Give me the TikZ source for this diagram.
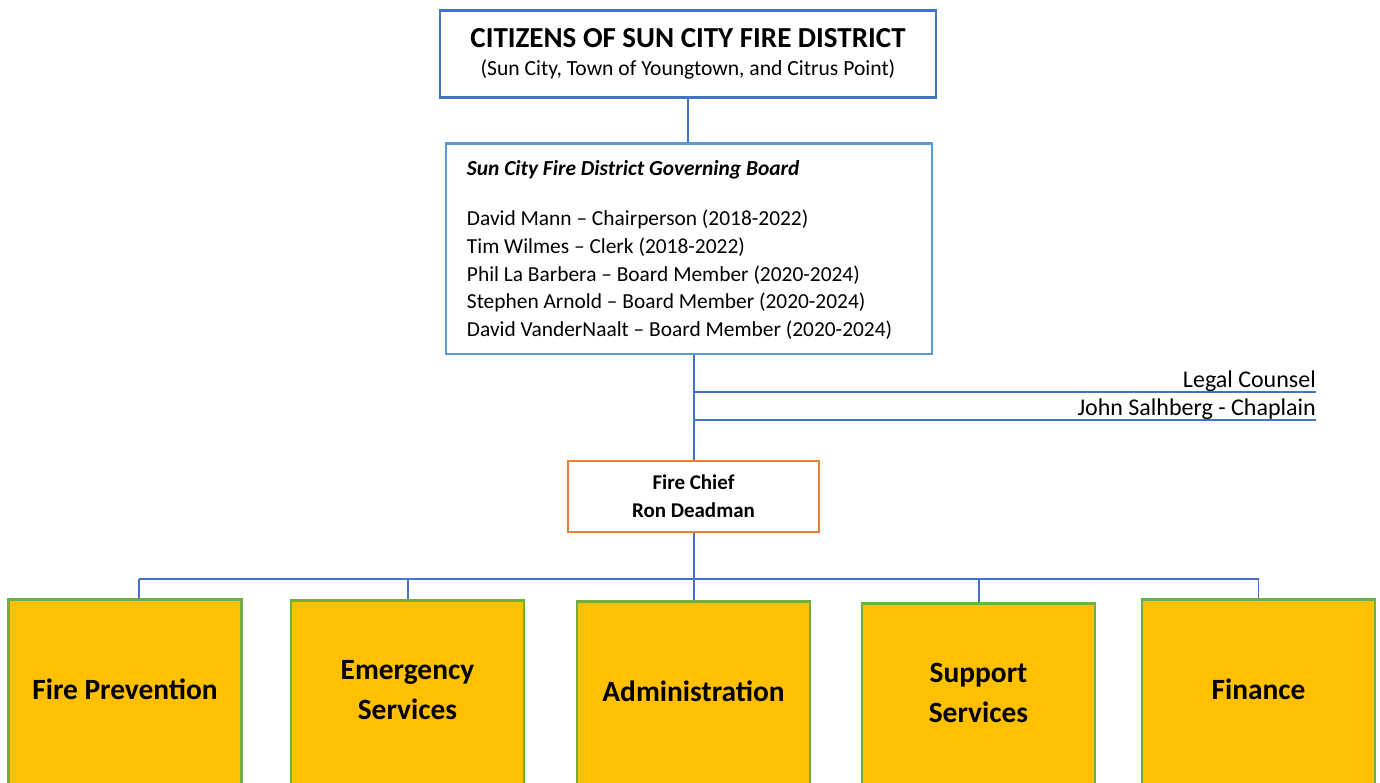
\documentclass[tikz,border=0pt]{standalone}
\usepackage{fontspec}
\setmainfont{Carlito}
\usetikzlibrary{positioning}

\definecolor{lineblue}{HTML}{4472C4}
\definecolor{boardblue}{HTML}{5B9BD5}
\definecolor{chieforange}{HTML}{ED7D31}
\definecolor{deptgreen}{HTML}{70AD47}
\definecolor{deptfill}{HTML}{FFC000}

\tikzset{
  conn/.style={draw=lineblue, line width=2pt},
  topbox/.style={draw=lineblue, line width=2.5pt, minimum width=496pt, minimum height=87pt, align=center,
    inner sep=0pt, font=\fontsize{21.6}{28}\selectfont},
  boardbox/.style={draw=boardblue, line width=2.5pt, minimum width=486pt, minimum height=210pt, anchor=north},
  chiefbox/.style={draw=chieforange, line width=2.5pt, minimum width=251pt, minimum height=71pt, align=center,
    font=\fontsize{21}{28}\selectfont\bfseries},
  dept/.style={draw=deptgreen, fill=deptfill, line width=2.5pt, minimum width=233pt, minimum height=192pt,
    anchor=north, align=center, text depth=13pt, font=\fontsize{29.4}{40}\selectfont\bfseries},
  sidelabel/.style={anchor=base east, inner sep=0pt, yshift=5pt, font=\fontsize{24}{28}\selectfont}
}

\begin{document}
\begin{tikzpicture}[x=1pt, y=-1pt]
  \useasboundingbox (0,0) rectangle (1380,783);
  \clip (0,0) rectangle (1380,783);

  % Citizens and governing board
  \node[topbox] (citizens) at (688,54)
    {{\fontsize{29}{29}\selectfont\bfseries CITIZENS OF SUN CITY FIRE DISTRICT}\\
     (Sun City, Town of Youngtown, and Citrus Point)};
  \node[boardbox] (board) at (689,142.5) {};
  \node[anchor=north west, align=left, inner sep=0pt, font=\fontsize{21.4}{27.8}\selectfont]
    (members) at ([shift={(22,18)}]board.north west)
    {{\bfseries\itshape Sun City Fire District Governing Board}\\[22pt]
     David Mann -- Chairperson (2018-2022)\\
     Tim Wilmes -- Clerk (2018-2022)\\
     Phil La Barbera -- Board Member (2020-2024)\\
     Stephen Arnold -- Board Member (2020-2024)\\
     David VanderNaalt -- Board Member (2020-2024)};

  % Fire chief
  \node[chiefbox] (chief) at (693.5,496.5) {Fire Chief\\Ron Deadman};

  % Side lines
  \coordinate (legal) at (1316,392);
  \coordinate (chaplain) at (1316,420);
  \node[sidelabel] (legallbl) at (legal) {Legal Counsel};
  \node[sidelabel] (chaplainlbl) at (chaplain) {John Salhberg - Chaplain};

  % Departments
  \node[dept] (prev) at (125,598) {Fire Prevention};
  \node[dept] (emerg) at (407.5,599) {Emergency\\Services};
  \node[dept] (admin) at (693.5,600) {Administration};
  \node[dept] (support) at (978.5,602) {Support\\Services};
  \node[dept] (fin) at (1258.5,598) {Finance};

  % Connectors
  \coordinate (bus) at (693.5,579);
  \draw[conn] (citizens.south) -- (citizens.south |- board.north);
  \draw[conn] (chief.north |- board.south) -- (chief.north);
  \draw[conn] (chief.north |- legal) -- (legal);
  \draw[conn] (chief.north |- chaplain) -- (chaplain);
  \draw[conn] (chief.south) -- (chief.south |- bus);
  \draw[conn] ([xshift=14pt]prev.north |- bus) -- (fin.north |- bus);
  \draw[conn] ([xshift=14pt]prev.north |- bus) -- ([xshift=14pt]prev.north);
  \foreach \d in {emerg, admin, support}
    \draw[conn] (\d.north |- bus) -- (\d.north);
  \draw[draw=lineblue, line width=1pt] (fin.north |- bus) -- (fin.north);
\end{tikzpicture}
\end{document}
